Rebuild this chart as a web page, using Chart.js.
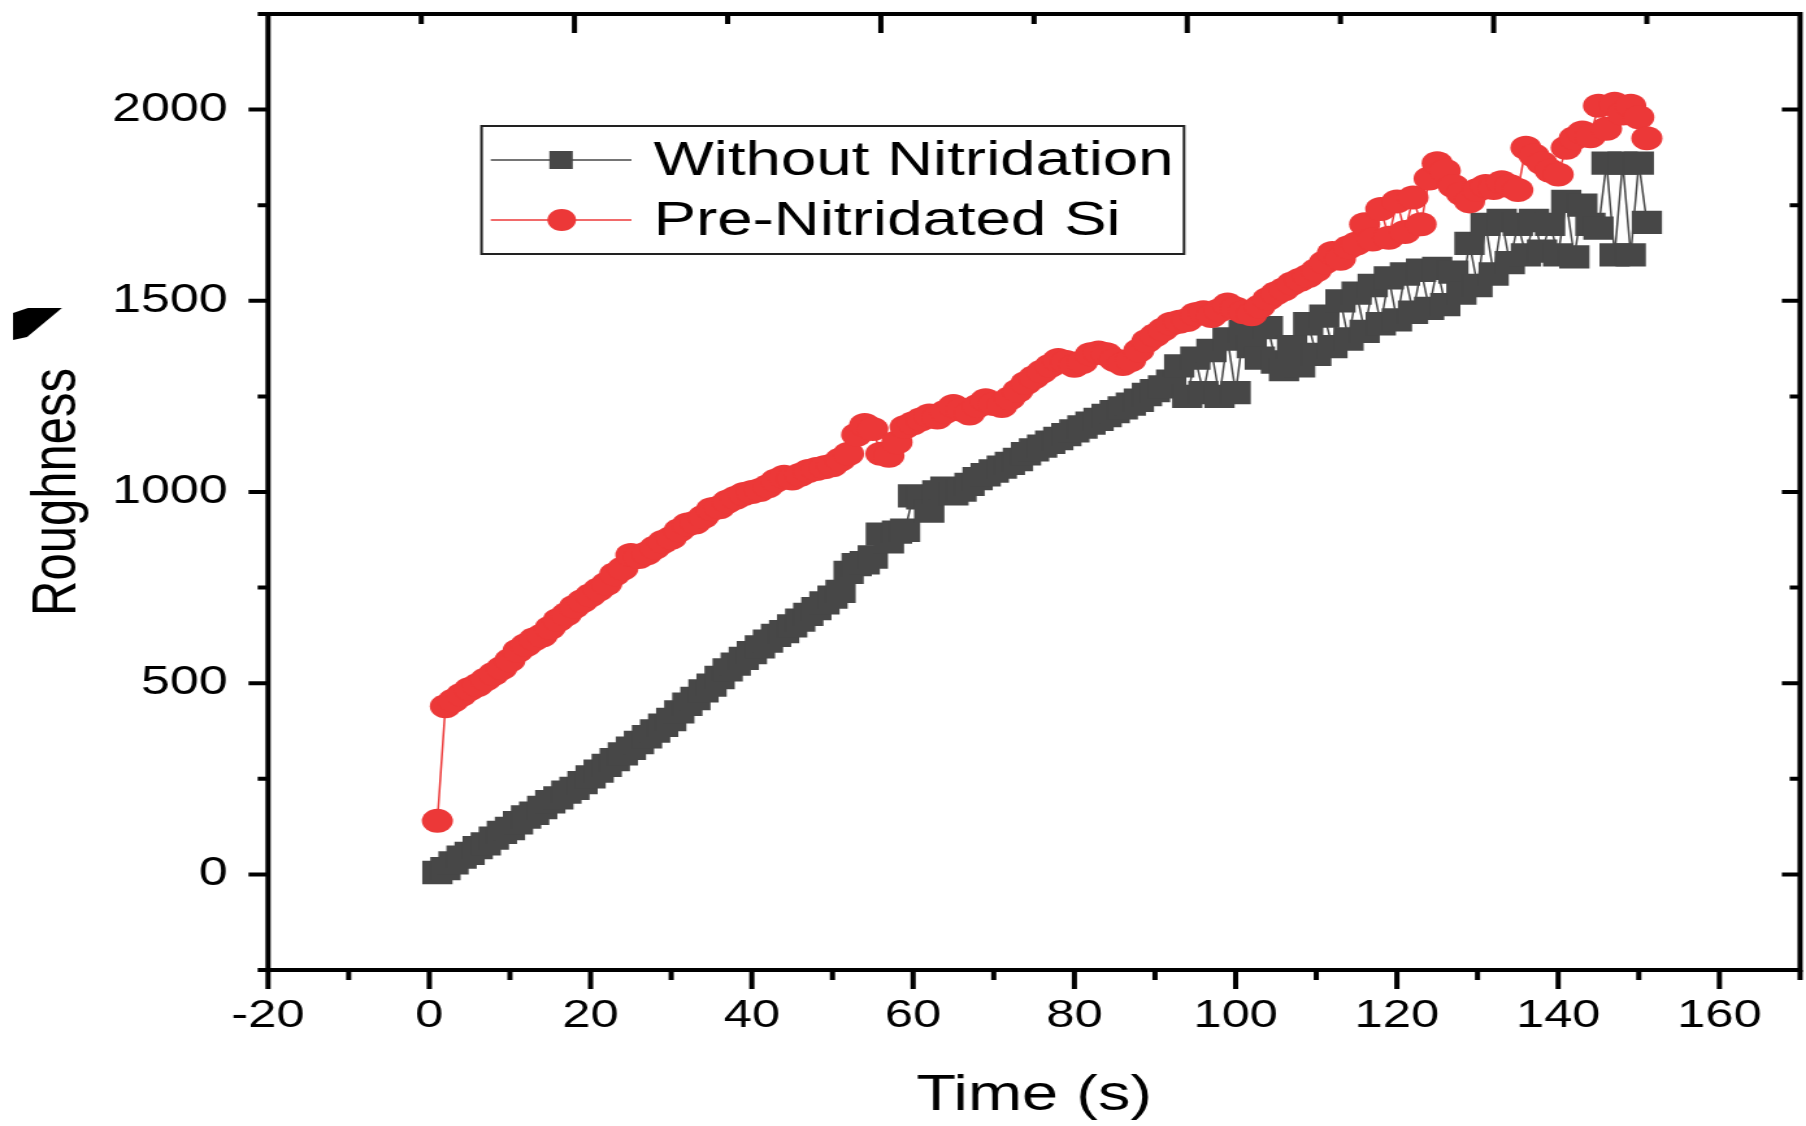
<!DOCTYPE html>
<html>
<head>
<meta charset="utf-8">
<script src="https://cdn.jsdelivr.net/npm/chart.js@4/dist/chart.umd.min.js"></script>
<style>
html,body{margin:0;padding:0;background:#fff;overflow:hidden;}
#wrap{position:absolute;left:0;top:0;width:1390px;height:1126px;transform-origin:0 0;transform:scaleX(1.2993);}
</style>
</head>
<body>
<div id="wrap"><canvas id="c"></canvas></div>
<script>
// ---- data ----
const timeS = [1,2,3,4,5,6,7,8,9,10,11,12,13,14,15,16,17,18,19,20,
  21,22,23,24,25,26,27,28,29,30,31,32,33,34,35,36,37,38,39,40,
  41,42,43,44,45,46,47,48,49,50,51,52,53,54,55,56,57,58,59,60,
  61,62,63,64,65,66,67,68,69,70,71,72,73,74,75,76,77,78,79,80,
  81,82,83,84,85,86,87,88,89,90,91,92,93,94,95,96,97,98,99,100,
  101,102,103,104,105,106,107,108,109,110,111,112,113,114,115,116,117,118,119,120,
  121,122,123,124,125,126,127,128,129,130,131,132,133,134,135,136,137,138,139,140,
  141,142,143,144,145,146,147,148,149,150,151];

const withoutNitridation = [5,15,30,45,55,70,80,95,110,120,
  135,150,160,175,190,200,215,225,240,255,
  270,285,300,315,330,345,360,375,390,405,
  425,445,460,480,495,515,535,550,565,580,
  595,610,625,635,650,665,680,695,710,725,
  740,790,810,815,830,890,870,895,900,990,
  985,950,1000,1010,995,1005,1020,1035,1045,1055,
  1065,1075,1085,1100,1110,1120,1130,1140,1150,1160,
  1170,1180,1190,1200,1210,1220,1230,1240,1255,1265,
  1275,1290,1330,1250,1350,1260,1370,1250,1400,1260,
  1420,1380,1350,1430,1340,1320,1380,1330,1440,1360,
  1460,1380,1500,1400,1520,1420,1540,1440,1560,1450,
  1570,1470,1580,1480,1585,1490,1575,1520,1650,1540,
  1700,1570,1710,1600,1700,1620,1710,1630,1700,1620,
  1760,1615,1750,1700,1690,1860,1620,1860,1620,1860,1705];

const preNitridatedSi = [140,440,455,470,485,495,510,525,540,560,
  585,600,615,625,645,665,680,700,715,730,
  745,760,785,800,835,830,840,855,870,880,
  900,915,920,935,955,960,975,985,995,1000,
  1005,1015,1030,1040,1035,1045,1055,1060,1065,1070,
  1085,1100,1150,1175,1165,1100,1095,1130,1170,1180,
  1190,1200,1195,1210,1225,1215,1205,1225,1240,1230,
  1225,1245,1265,1285,1300,1315,1330,1345,1340,1330,
  1340,1360,1365,1360,1345,1335,1345,1370,1395,1410,
  1425,1440,1445,1450,1465,1470,1460,1475,1490,1480,
  1470,1465,1485,1505,1520,1530,1545,1555,1565,1580,
  1600,1625,1610,1640,1650,1700,1660,1740,1665,1760,
  1680,1770,1700,1820,1860,1840,1800,1780,1760,1790,
  1800,1795,1810,1800,1790,1900,1880,1860,1840,1830,
  1900,1925,1940,1930,2010,1950,2015,1990,2010,1980,1925];

const seriesLabels = ['Without Nitridation', 'Pre-Nitridated Si'];
const xTickLabels = [-20, 0, 20, 40, 60, 80, 100, 120, 140, 160];
const yTickLabels = [0, 500, 1000, 1500, 2000];
const xTitle = 'Time (s)';
const yTitle = 'Roughness';

// ---- styling ----
const GREY = '#474747';
const RED = '#EC3838';
const FONT = "'Liberation Sans', Arial, sans-serif";
Chart.defaults.font.family = FONT;
Chart.defaults.color = '#000';

function toPoints(xs, ys) { return xs.map((t, i) => ({x: t, y: ys[i]})); }

const framePlugin = {
  id: 'frame',
  afterDraw(chart) {
    const {ctx, chartArea: a, scales} = chart;
    const x = scales.x, y = scales.y, x2 = scales.x2;
    ctx.save();
    ctx.strokeStyle = '#000';
    ctx.lineWidth = 4;
    ctx.lineCap = 'butt';
    ctx.strokeRect(a.left, a.top, a.right - a.left, a.bottom - a.top);
    ctx.beginPath();
    // bottom ticks (outward)
    for (let v = x.min; v <= x.max + 1e-9; v += 10) {
      const px = x.getPixelForValue(v);
      const len = Math.abs(v % 20) < 1e-9 ? 19 : 10;
      ctx.moveTo(px, a.bottom); ctx.lineTo(px, a.bottom + len);
    }
    // left ticks (outward)
    for (let v = y.min; v <= y.max + 1e-9; v += 250) {
      const py = y.getPixelForValue(v);
      const len = Math.abs(v % 500) < 1e-9 ? 15 : 8;
      ctx.moveTo(a.left, py); ctx.lineTo(a.left - len, py);
    }
    // right ticks (inward)
    for (let v = y.min + 250; v < y.max - 1e-9; v += 250) {
      const py = y.getPixelForValue(v);
      const len = Math.abs(v % 500) < 1e-9 ? 14 : 8;
      ctx.moveTo(a.right, py); ctx.lineTo(a.right - len, py);
    }
    // top ticks (inward)
    for (let n = 1; n < 10; n++) {
      const px = x2.getPixelForValue(n);
      const len = n % 2 === 0 ? 19 : 10;
      ctx.moveTo(px, a.top); ctx.lineTo(px, a.top + len);
    }
    ctx.stroke();

    // small black mark at the left edge of the figure
    ctx.fillStyle = '#000';
    ctx.beginPath();
    ctx.moveTo(10, 313); ctx.lineTo(21.5, 308); ctx.lineTo(47.7, 308);
    ctx.lineTo(20.8, 337); ctx.lineTo(10, 340); ctx.closePath();
    ctx.fill();

    // legend
    const ds = chart.data.datasets;
    const bx = 370.6, by = 126, bw = 540.7, bh = 128;
    ctx.lineWidth = 2;
    ctx.strokeStyle = '#222';
    ctx.strokeRect(bx, by, bw, bh);
    const rows = [160, 220];
    ds.forEach((d, i) => {
      const cy = rows[i];
      ctx.strokeStyle = d.borderColor;
      ctx.lineWidth = 1.6;
      ctx.beginPath(); ctx.moveTo(377.7, cy); ctx.lineTo(486, cy); ctx.stroke();
      ctx.fillStyle = d.pointBackgroundColor;
      if (d.pointStyle === 'rect') {
        ctx.fillRect(431.8 - 9, cy - 9, 18, 18);
      } else {
        ctx.beginPath(); ctx.arc(432.3, cy, 11, 0, Math.PI * 2); ctx.fill();
      }
      ctx.fillStyle = '#000';
      ctx.font = '49px ' + FONT;
      ctx.textAlign = 'left';
      ctx.textBaseline = 'middle';
      ctx.fillText(d.label, 503, cy + 1);
    });
    ctx.restore();
  }
};

new Chart(document.getElementById('c'), {
  type: 'line',
  data: {
    datasets: [
      {
        label: seriesLabels[0],
        data: toPoints(timeS, withoutNitridation),
        borderColor: GREY,
        backgroundColor: GREY,
        borderWidth: 1.5,
        pointStyle: 'rect',
        pointRadius: 16.5,
        pointBackgroundColor: GREY,
        pointBorderWidth: 0,
        tension: 0,
        order: 1
      },
      {
        label: seriesLabels[1],
        data: toPoints(timeS, preNitridatedSi),
        borderColor: RED,
        backgroundColor: RED,
        borderWidth: 1.5,
        pointStyle: 'circle',
        pointRadius: 12,
        pointBackgroundColor: RED,
        pointBorderWidth: 0,
        tension: 0,
        order: 0
      }
    ]
  },
  options: {
    responsive: true,
    maintainAspectRatio: false,
    animation: false,
    events: [],
    layout: {autoPadding: false, padding: {top: 14, right: 4.6, left: 0, bottom: 0}},
    plugins: {legend: {display: false}, tooltip: {enabled: false}},
    scales: {
      x: {
        type: 'linear', position: 'bottom', min: -20, max: 170,
        afterBuildTicks: s => { s.ticks = xTickLabels.map(v => ({value: v})); },
        afterFit: s => { s.height = 156; s.paddingLeft = 0; s.paddingRight = 0; },
        grid: {display: true, drawOnChartArea: false, drawTicks: true, tickLength: 19, color: 'rgba(0,0,0,0)'},
        border: {display: false},
        ticks: {padding: 4, color: '#000', font: {size: 39}, maxRotation: 0, autoSkip: false,
                callback: v => String(v)},
        title: {display: true, text: xTitle, color: '#000', font: {size: 50}, padding: {top: 0, bottom: 0}}
      },
      y: {
        type: 'linear', position: 'left', min: -250, max: 2250,
        afterBuildTicks: s => { s.ticks = yTickLabels.map(v => ({value: v})); },
        afterFit: s => { s.width = 206.3; s.paddingTop = 0; s.paddingBottom = 0; },
        grid: {display: true, drawOnChartArea: false, drawTicks: true, tickLength: 15, color: 'rgba(0,0,0,0)'},
        border: {display: false},
        ticks: {padding: 16, color: '#000', font: {size: 40}, autoSkip: false,
                callback: v => String(v)},
        title: {display: true, text: yTitle, color: '#000', font: {size: 49}, padding: {top: 15, bottom: 0}}
      },
      x2: {type: 'linear', position: 'top', min: 0, max: 10, display: false}
    }
  },
  plugins: [framePlugin]
});
</script>
</body>
</html>
